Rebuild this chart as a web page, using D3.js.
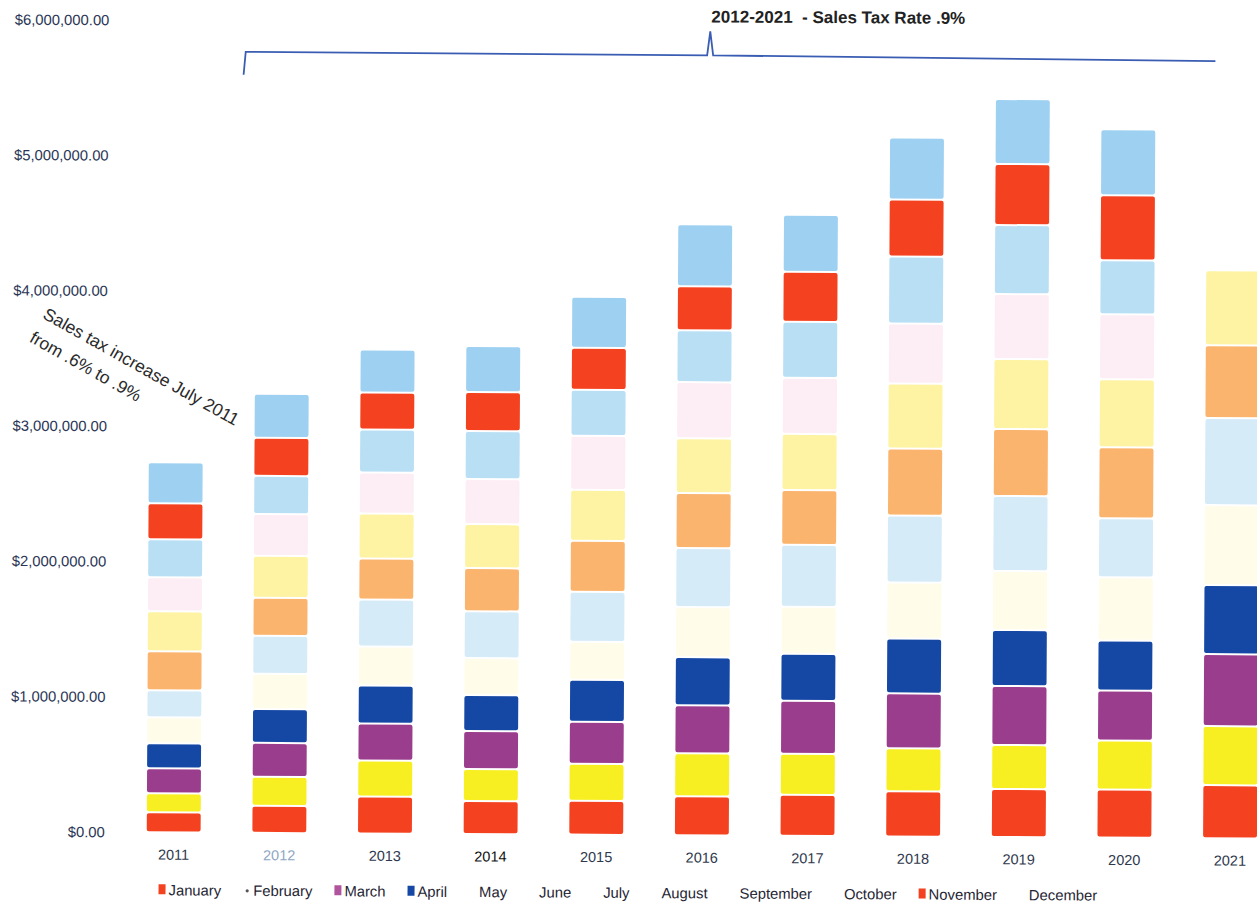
<!DOCTYPE html>
<html>
<head>
<meta charset="utf-8">
<script src="https://cdn.jsdelivr.net/npm/d3@7"></script>
<style>
  body { margin: 0; background: #fff; }
  svg { display: block; font-family: "Liberation Sans", Arial, sans-serif; }
</style>
</head>
<body>
<svg id="chart" width="1257" height="909"></svg>
<script>
// monthly sales tax receipts, thousands of dollars
var years = ["2011", "2012", "2013", "2014", "2015", "2016", "2017", "2018", "2019", "2020", "2021"];
var months = ["January", "February", "March", "April", "May", "June",
              "July", "August", "September", "October", "November", "December"];

var jan = [148, 200, 273, 244, 251, 288, 303, 333, 355, 355, 392];
var feb = [140, 214, 266, 236, 273, 318, 303, 318, 325, 362, 436];
var mar = [185, 251, 273, 281, 310, 355, 392, 406, 436, 370, 532];
var apr = [185, 251, 281, 266, 310, 355, 347, 406, 414, 370, 510];
var may = [192, 259, 288, 273, 281, 370, 347, 414, 436, 466, 591];
var jun = [200, 281, 347, 347, 370, 436, 458, 495, 554, 436, 643];
var jul = [288, 281, 303, 318, 377, 406, 406, 495, 495, 525, 539];
var aug = [296, 310, 333, 325, 377, 406, 414, 480, 517, 503, 554];
var sep = [251, 310, 303, 333, 399, 414, 414, 443, 480, 480, null];
var oct = [281, 281, 318, 355, 340, 384, 414, 495, 510, 399, null];
var nov = [266, 281, 273, 288, 310, 325, 370, 421, 451, 480, null];
var dec = [303, 325, 318, 340, 377, 458, 421, 458, 480, 488, null];

var yTicks = [0, 1000, 2000, 3000, 4000, 5000, 6000];

var monthColors = ["#f4411f", "#f7ef22", "#9b3d8d", "#1547a5", "#fffcea", "#d6ebf8",
                   "#fbb46d", "#fdf3a3", "#fdedf4", "#b9dff5", "#f4411f", "#9dd0f1"];

var series = [jan, feb, mar, apr, may, jun, jul, aug, sep, oct, nov, dec];
var rows = years.map(function(yr, i) {
    var r = {year: yr};
    months.forEach(function(m, j) { r[m] = series[j][i]; });
    return r;
});

var svg = d3.select("#chart");
// the scanned page is tilted a little
var g = svg.append("g").attr("transform", "rotate(0.32 640 450)");

var x = d3.scaleBand().domain(years).range([123, 1285]).paddingInner(0.49).paddingOuter(0.245);
var y = d3.scaleLinear().domain([0, 6000]).range([835, 23]);
var color = d3.scaleOrdinal().domain(months).range(monthColors);

var stacked = d3.stack().keys(months).value(function(d, k) { return d[k] || 0; })(rows);

g.selectAll(".layer")
    .data(stacked)
    .enter().append("g")
    .attr("class", "layer")
    .attr("fill", function(d) { return color(d.key); })
    .selectAll("rect")
    .data(function(d) { return d.filter(function(s) { return s.data[d.key] != null; }); })
    .enter().append("rect")
    .attr("x", function(d) { return x(d.data.year); })
    .attr("y", function(d) { return y(d[1]) + 1; })
    .attr("width", x.bandwidth())
    .attr("height", function(d) { return Math.max(0, y(d[0]) - y(d[1]) - 2); })
    .attr("rx", 2);

// y axis, labels only
var yAxis = g.append("g")
    .attr("transform", "translate(109,0)")
    .call(d3.axisLeft(y).tickValues(yTicks).tickSize(0).tickPadding(2)
        .tickFormat(function(d) { return d3.format("$,.2f")(d * 1000); }));
yAxis.select(".domain").remove();
yAxis.attr("font-size", 14.8).attr("font-family", "Liberation Sans, Arial, sans-serif");
yAxis.selectAll("text").attr("fill", "#2b3656");

// x axis, labels only
var xAxis = g.append("g")
    .attr("transform", "translate(0,852)")
    .call(d3.axisBottom(x).tickSize(0).tickPadding(0));
xAxis.select(".domain").remove();
xAxis.attr("font-size", 14.5).attr("font-family", "Liberation Sans, Arial, sans-serif");
xAxis.selectAll("text").attr("fill", function(d) {
    if (d === "2012") return "#8fa7c4";
    if (d === "2014") return "#0f0f0f";
    return "#2f394d";
});

// legend
var markerMonths = {"January": "rect", "February": "dot", "March": "rect", "April": "rect", "November": "rect"};
var lx = 161;
months.forEach(function(m) {
    var kind = markerMonths[m];
    if (kind === "rect") {
        g.append("rect").attr("x", lx).attr("y", 887).attr("width", 7).attr("height", 10)
            .attr("fill", m === "March" ? "#b0549e" : color(m));
    } else if (kind === "dot") {
        g.append("circle").attr("cx", lx + 4).attr("cy", 893).attr("r", 1.6).attr("fill", "#555");
    }
    var t = g.append("text").attr("x", lx + 10).attr("y", 898)
        .attr("font-size", 14.8).attr("fill", "#1f2533").text(m);
    lx = lx + 10 + t.node().getComputedTextLength() + 22;
});

// note about the rate change
var note = g.append("text")
    .attr("transform", "translate(41,321) rotate(29)")
    .attr("font-size", 17.5)
    .attr("fill", "#2a2a2a");
note.append("tspan").attr("x", 0).attr("y", 0).text("Sales tax increase July 2011");
note.append("tspan").attr("x", 0).attr("y", 27).text("from .6% to .9%");

// bracket over 2012-2021
var bl = x("2012") - 13, br = x("2021") + 8, bm = bl + 0.48 * (br - bl);
g.append("path")
    .attr("d", "M" + bl + ",77 L" + (bl + 2) + ",54 L" + (bm - 3) + ",55 L" + bm + ",31 L" + (bm + 3) + ",55 L" + br + ",58")
    .attr("fill", "none")
    .attr("stroke", "#3a5db3")
    .attr("stroke-width", 1.8);

g.append("text")
    .attr("x", bm + 1)
    .attr("y", 22)
    .attr("font-size", 17)
    .attr("font-weight", "bold")
    .attr("fill", "#222")
    .style("white-space", "pre")
    .text("2012-2021  - Sales Tax Rate .9%");
</script>
</body>
</html>
